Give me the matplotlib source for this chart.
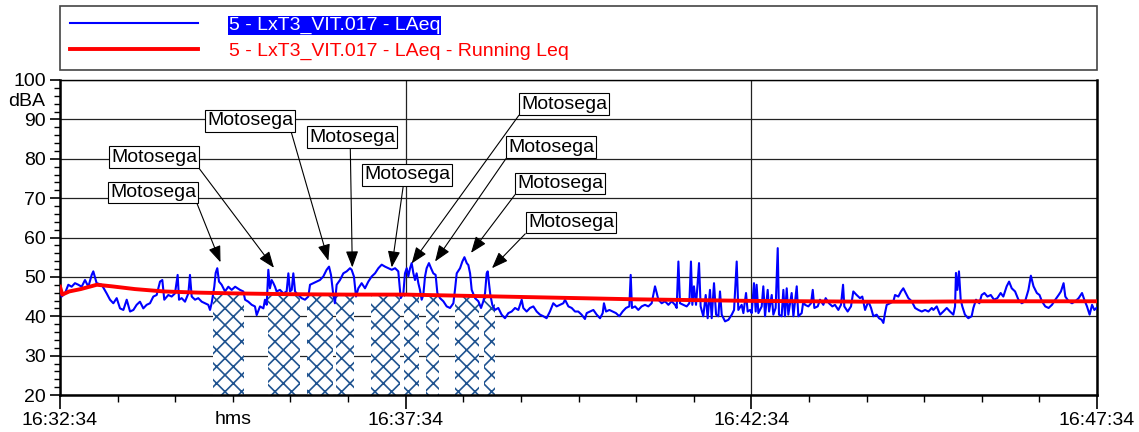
import matplotlib
matplotlib.use('Agg')
import matplotlib.pyplot as plt
from matplotlib.ticker import MultipleLocator, FuncFormatter, FixedLocator

plt.rcParams['font.family'] = ['Liberation Sans', 'DejaVu Sans']
plt.rcParams['hatch.linewidth'] = 1.2

# start of the measurement: 16:32:34, x values are seconds from it
start_h, start_m, start_s = 16, 32, 34

# LAeq (blue), seconds / dBA
laeq_t = [0, 1.4, 4.3, 7.2, 10.1, 13, 15.9, 18.8, 21.7, 24.6, 27.5, 28.9, 31.8, 36.2, 40.5, 43.4,
          46.3, 49.2, 52.1, 55, 57.9, 60.8, 63.7, 66.5, 69.4, 72.3, 75.2, 78.1, 81, 83.9, 86.8, 88.8,
          90.5, 94, 96.9, 99.8, 102.1, 103.3, 105.6, 108.5, 111.4, 112.8, 114.3, 117.2, 120, 123,
          125.8, 128.7, 130.2, 131.6, 133.9, 135.1, 136.5, 138, 140.3, 143.2, 146.1, 149,
          152, 156.2, 159.1, 160.6, 163.4, 166.4, 169.2, 170.7, 173.6, 176.5, 177.9, 179.4, 180.8,
          182.2, 183.7, 185.2, 186.6, 188, 190.9, 193.8, 196.7, 198.2, 199.6, 201.1, 202.5, 204,
          205.4, 206.8, 209.7, 212.6, 215.5, 217, 219.9, 222.7, 225.6, 228.5, 231.4, 233.5, 235.2,
          237.2, 238.6, 240.1, 243, 245.9, 248.8, 251.7, 253.1, 255.1, 256.9, 258.9, 261.8, 264.7,
          267.6, 270.5, 273.4, 276.3, 279.2, 282.1, 285, 287.9, 290.8, 293.6, 295.7, 298,
          299.4, 300.9, 302.3, 303.8, 305.2, 306.7, 308.1, 309.5, 311, 312.4, 313.9, 315.3, 316.8,
          318.2, 320.2, 322, 324, 326, 327.5, 329.8, 332.7, 335.6, 338.5, 341.4, 342.8, 344.3,
          347.2, 349.2, 351, 353, 354.4, 355.9, 357.3, 360.2, 363.1, 365.4, 367.4, 368.9, 370.3,
          371.2, 372.3, 373.5, 375.2, 377.5, 380.4, 383.3, 386.2, 389.1, 392, 394.9, 397.8, 400.7,
          402.1, 405, 407.9, 410.8, 413.7, 416.6, 419.5, 422.3, 425.2, 428.1, 431, 433.9, 436.8,
          438.3, 441.2, 444.1, 447, 449.8, 452.7, 455.6, 457.1, 460, 462.9, 465.8, 468.7, 471,
          472.1, 473.9, 476.8, 479.6, 482.5, 485.4, 488.3, 491.2, 494.1, 495.3, 496.4, 499.1,
          501.9, 504.8, 507.7, 510.6, 513.5, 516.4, 517.9, 519.3, 522.2, 525.1, 528, 530.9, 533.8,
          535.2, 536.7, 538.1, 541, 543.9, 546.2, 547.6, 548.8, 550.2, 552, 553.4, 554.6, 556,
          558.3, 560.4, 562.1, 564.1, 565.6, 567.6, 569.4, 571.4, 572.8, 574.3, 577.2, 580.1, 583,
          585, 587.3, 588.7, 591.6, 593.1, 595.4, 596.8, 598.9, 600.3, 602.3, 603.8,
          604.6, 606.1, 609, 610.4, 611.9, 614.2, 615.4, 617.7, 619.1, 621.1, 622.9, 624, 626.3,
          627.8, 629.2, 630.7, 632.1, 635, 636.5, 639.4, 640.8, 643.7, 645.1, 646.6, 649.5, 651.8,
          653.3, 654.7, 657.6, 659.6, 662.5, 664.5, 667.4, 670.3, 672.6, 675.5, 677.8, 679.6,
          680.7, 683.6, 686.5, 688.5, 691.4, 694.3, 696.3, 698.7, 701.6, 703.9, 705.9, 708.8,
          710.8, 713.1, 714.6, 716, 717.5, 720.4, 723.3, 724.7, 727.6, 729.9, 731.9, 734, 736.3,
          739.2, 742.1, 745, 747.9, 750.8, 753.7, 756.6,
          758, 760.9, 763.8, 766.6, 769.6, 772.4, 775.3, 776.8, 777.6, 778.8, 780.2, 781.7, 783.1,
          785.4, 788.3, 791.2, 792.7, 795, 797.9, 799.9, 802.3, 804.9, 807.8, 810.6, 813.5, 816.4,
          818.7, 821.6, 823.7, 826, 828.9, 831.8, 834.7, 837.6, 840.5, 842.6, 844.9, 847.8, 850.1,
          852.2, 855.1, 858, 860.9, 863.8, 866.7, 868.7, 871, 872.5, 875.4, 878.3, 881.2, 884.1,
          887, 889, 891.3, 893.6, 895.7, 897.7, 899.5]
laeq_db = [47.5, 45.0, 45.8, 48.0, 47.5, 48.4, 48.0, 47.5, 49.2, 47.5, 50.5, 51.4, 48.4, 48.0, 45.8, 44.2,
           43.3, 44.6, 42.0, 41.6, 44.2, 41.2, 41.6, 42.9, 43.7, 42.0, 42.9, 43.3, 45.0, 45.4, 48.8, 49.2,
           44.2, 45.4, 45.0, 45.8, 50.5, 44.2, 44.6, 43.7, 45.8, 50.5, 45.0, 44.2, 44.6, 43.7,
           43.3, 42.9, 41.6, 43.3, 47.5, 51.0, 52.2, 48.8, 48.0, 46.3, 47.5, 46.7,
           47.5, 46.7, 46.3, 44.2, 43.7, 42.9, 42.5, 40.3, 42.5, 42.0, 44.2, 42.9, 51.8,
           47.1, 49.2, 48.4, 47.5, 46.3, 46.7, 45.8, 46.3, 50.9, 46.3, 46.7, 50.9, 46.3,
           45.8, 45.4, 44.6, 44.2, 45.0, 48.0, 48.4, 48.8, 49.2, 50.1, 51.8, 52.6, 50.5,
           45.4, 43.3, 48.0, 49.2, 50.9, 51.4, 52.2, 51.8, 50.1, 45.0, 47.1, 48.4, 47.1,
           48.8, 50.1, 50.9, 52.2, 53.1, 52.6, 52.2, 51.8, 52.2, 51.4, 44.6, 45.8,
           50.9, 52.2, 50.1, 52.2, 53.5, 50.9, 49.2, 50.9, 48.4, 46.7, 44.2, 45.4, 50.1,
           52.2, 53.5, 52.2, 50.9, 50.5, 45.9, 44.6, 43.8, 42.5, 42.1, 43.3, 46.7, 50.9,
           52.2, 53.9, 55.0, 53.5, 53.0, 50.9, 46.7, 44.6, 43.8, 42.1, 43.8, 45.9, 50.9,
           51.4, 48.4, 45.4, 42.9, 41.6, 42.1, 40.4, 39.5, 40.8, 41.2, 42.1, 41.6, 44.2,
           42.1, 41.2, 42.1, 42.5, 41.2, 40.4, 40.0, 39.5, 41.2, 43.3, 42.5, 42.9, 43.3,
           44.2, 42.5, 42.1, 41.2, 41.2, 40.4, 39.3, 40.8, 41.2, 41.6, 40.4, 39.5, 40.8,
           43.3, 41.2, 41.6, 41.2, 40.8, 40.0, 41.2, 42.1, 42.5, 50.5, 42.1, 42.5,
           41.6, 42.5, 42.9, 42.5, 43.3, 47.6, 45.9, 44.2, 43.3, 43.8, 42.9, 43.8, 42.9,
           42.1, 53.9, 43.3, 42.9, 42.5, 43.3, 53.9, 42.9, 47.6, 42.9, 48.4, 53.5, 42.5,
           40.0, 45.4, 39.5, 46.7, 39.5, 48.4, 40.4, 40.0, 46.3, 40.4, 38.7, 39.1, 40.4,
           41.6, 53.9, 41.6, 42.9, 40.8, 45.9, 41.2, 41.6, 40.8, 48.4, 41.2,
           48.0, 40.8, 42.5, 47.6, 40.0, 46.7, 41.2, 45.4, 40.4, 42.1, 57.3, 40.4, 40.0,
           46.7, 40.0, 47.1, 40.4, 45.9, 40.0, 47.6, 40.0, 40.8, 43.8, 42.9, 42.5, 43.3,
           46.7, 42.1, 42.5, 44.2, 42.9, 44.6, 43.3, 42.5, 42.9, 41.6, 42.9, 48.0,
           42.5, 41.2, 42.5, 46.3, 45.4, 44.6, 45.0, 41.6, 43.8, 42.1, 40.0, 40.4,
           39.5, 39.1, 38.3, 40.8, 42.9, 43.3, 43.8, 45.4, 45.0, 46.3, 47.1, 45.9, 44.6,
           43.8, 42.1, 41.6, 41.2, 41.6, 41.2, 42.1,
           41.6, 42.5, 40.4, 41.2, 42.1, 41.2, 40.4, 42.5, 51.0, 46.7, 51.4, 44.2, 42.5,
           40.4, 39.5, 40.0, 42.1, 44.2, 43.3, 45.4, 45.9, 45.0, 45.4, 44.2, 44.6, 45.9,
           45.0, 47.6, 48.8, 47.1, 46.3, 44.2, 43.3, 43.8, 46.7, 50.3, 47.6, 45.9, 45.4,
           43.8, 42.5, 42.1, 42.9, 44.2, 45.4, 46.3, 48.4, 45.0, 43.8, 43.3, 43.8, 44.6,
           45.9, 44.2, 42.5, 40.4, 42.9, 41.6, 42.1]

# running Leq (red)
rleq_t = [0, 2, 8, 18, 32, 45, 65, 90, 120, 152, 200, 250, 300, 350, 400, 450, 500, 550, 600,
          650, 700, 750, 800, 850, 900]
rleq_db = [47.5, 45.5, 46.3, 46.9, 48.0, 47.6, 46.9, 46.3, 46.0, 45.8, 45.6, 45.5, 45.5, 45.2,
           44.9, 44.6, 44.3, 44.1, 43.9, 43.8, 43.7, 43.7, 43.8, 43.8, 43.8]

# marked "Motosega" periods (hatched)
ev_start = [132.5, 180.5, 214.6, 239.5, 270.2, 298.6, 317.7, 343.1, 368.0]
ev_end = [160.0, 208.3, 237.2, 255.2, 295.1, 311.3, 328.7, 363.4, 377.3]
ev_top = [45.6, 45.5, 45.5, 45.5, 45.4, 45.3, 45.3, 45.1, 45.0]

# arrow tips of the annotations
ann_t = [139.3, 185.7, 232.9, 253.7, 287.9, 305.2, 325.5, 356.7, 374.9]
ann_db = [53.7, 52.3, 54.1, 52.4, 52.4, 53.4, 53.9, 56.1, 52.2]
ann_label = 'Motosega'

# where the label boxes sit and where their arrows leave them
box_xy = [(80.7, 71.4), (81.6, 80.4), (164.9, 89.6), (253.4, 85.5), (301.2, 75.9),
          (437.4, 93.9), (426.1, 82.9), (434.0, 73.7), (443.5, 63.8)]
box_rel = [(1, 0), (1, 0), (0.97, 0), (0.48, 0), (0.46, 0), (0, 0), (0, 0), (0, 0), (0, 0)]


def hms(x, pos=None):
    s = int(round(start_h * 3600 + start_m * 60 + start_s + x))
    return '%02d:%02d:%02d' % (s // 3600, (s // 60) % 60, s % 60)


fig = plt.figure(figsize=(11.39, 4.32), dpi=100)
ax = fig.add_axes([60 / 1139, 1 - 395 / 432, 1037 / 1139, 315 / 432])

# hatched periods
widths = [e - s for s, e in zip(ev_start, ev_end)]
heights = [t - 20 for t in ev_top]
ax.bar(ev_start, heights, width=widths, bottom=20, align='edge', facecolor='white',
       edgecolor='#1f5390', hatch='xx', linewidth=0, zorder=2)

ax.plot(laeq_t, laeq_db, color='#0000ff', linewidth=1.5, zorder=3,
        label='5 - LxT3_VIT.017 - LAeq')
ax.plot(rleq_t, rleq_db, color='#ff0000', linewidth=2.8, zorder=4,
        label='5 - LxT3_VIT.017 - LAeq - Running Leq')

for i in range(len(ann_t)):
    ax.annotate(ann_label, xy=(ann_t[i], ann_db[i]), xytext=box_xy[i], fontsize=14,
                ha='center', va='center', zorder=6,
                bbox=dict(boxstyle='square,pad=0.12', facecolor='white', edgecolor='black',
                          linewidth=0.8),
                arrowprops=dict(arrowstyle='-|>,head_length=1.0,head_width=0.38',
                                mutation_scale=10, color='black', linewidth=0.8,
                                shrinkA=0, shrinkB=0, relpos=box_rel[i]))

ax.set_xlim(0, 900)
ax.set_ylim(20, 100)
ax.xaxis.set_major_locator(FixedLocator([0, 300, 600, 900]))
ax.xaxis.set_minor_locator(MultipleLocator(50))
ax.xaxis.set_major_formatter(FuncFormatter(hms))
ax.yaxis.set_major_locator(MultipleLocator(10))
ax.yaxis.set_minor_locator(MultipleLocator(2))

ax.set_axisbelow(True)
ax.grid(True, which='major', color='#222222', linewidth=0.9)
ax.tick_params(axis='x', which='major', length=10, width=1.2, pad=2, labelsize=14)
ax.tick_params(axis='x', which='minor', length=5, width=1.0)
ax.tick_params(axis='y', which='major', length=7, width=1.2, pad=3, labelsize=14)
ax.tick_params(axis='y', which='minor', length=4, width=1.0)
for side in ['left', 'bottom', 'right']:
    ax.spines[side].set_linewidth(1.8)
ax.spines['top'].set_linewidth(1.0)

ax.text(-0.014, 94.5, 'dBA', transform=ax.get_yaxis_transform(), ha='right', va='center',
        fontsize=14)
ax.text(150, -0.052, 'hms', transform=ax.get_xaxis_transform(), ha='center', va='top',
        fontsize=14)

leg = ax.legend(loc='center', bbox_to_anchor=(0, 1.038, 1, 0.19), mode='expand', ncol=1,
                fontsize=14, handlelength=6.6, handletextpad=1.6, borderpad=0.5,
                labelspacing=0.45, borderaxespad=0, fancybox=False, edgecolor='#444444',
                framealpha=1)
leg.get_frame().set_linewidth(1.2)
texts = leg.get_texts()
texts[0].set_color('white')
texts[0].set_bbox(dict(facecolor='#0000ff', edgecolor='none', pad=0.5))
texts[1].set_color('#ff0000')

plt.savefig('out.png', dpi=100)
